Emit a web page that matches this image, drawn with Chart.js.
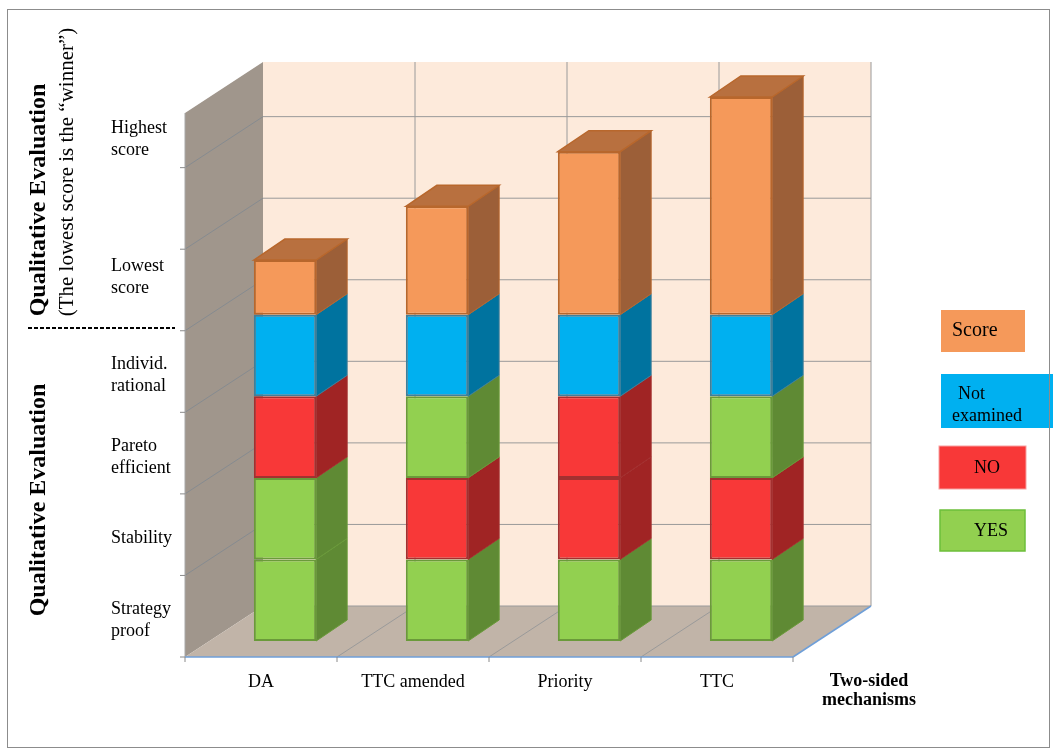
<!DOCTYPE html>
<html>
<head>
<meta charset="utf-8">
<script src="https://cdn.jsdelivr.net/npm/chart.js@4.4.1/dist/chart.umd.min.js"></script>
<style>
  html, body { margin: 0; padding: 0; background: #fff; }
  #wrap { width: 1058px; height: 753px; }
</style>
</head>
<body>
<div id="wrap"><canvas id="chart" width="1058" height="753"></canvas></div>
<script>
// data
const categories = ["DA", "TTC amended", "Priority", "TTC"]
const strategyProof = ["YES", "YES", "YES", "YES"]
const stability = ["YES", "NO", "NO", "NO"]
const paretoEfficient = ["NO", "YES", "NO", "YES"]
const individRational = ["Not examined", "Not examined", "Not examined", "Not examined"]
const scores = [0.67, 1.33, 2.0, 2.67]

const levelLabels = [["Strategy", "proof"], ["Stability"], ["Pareto", "efficient"], ["Individ.", "rational"], ["Lowest", "score"], ["Highest", "score"]]
const levelLabelValues = [0.45, 1.45, 2.45, 3.45, 4.65, 6.35]
const axisTicks = [0, 1, 2, 3, 4, 5, 6]
const yMax = 6.67

const colors = {
  "YES": { face: "#92d050", side: "#5f8a34", top: "#77a844", border: "#6a9a3a" },
  "NO": { face: "#f83838", side: "#a02424", top: "#c02c2c", border: "#a33030" },
  "Not examined": { face: "#00b0f0", side: "#00739f", top: "#008fc6", border: "#3f7f9a" },
  "Score": { face: "#f5995a", side: "#9c5f38", top: "#b8703f", border: "#b8672c" }
}

// 3D geometry: front of box relative to bar plane, back of box, bar depth
const FRONT = { dx: -24, dy: 16 }
const BACK = { dx: 54, dy: -35 }
const DEPTH = { dx: 31, dy: -21 }
const serif = '"Liberation Serif", "Times New Roman", serif'

function levelDataset(label, outcomes, values) {
  return {
    label: label,
    data: values || outcomes.map(() => 1),
    outcome: outcomes,
    backgroundColor: outcomes.map((o) => colors[o].face),
    borderColor: outcomes.map((o) => colors[o].border),
    borderWidth: 2,
    borderSkipped: false,
    categoryPercentage: 1,
    barPercentage: 0.41,
  }
}

function poly(ctx, pts, fill, stroke, lw) {
  ctx.beginPath()
  ctx.moveTo(pts[0][0], pts[0][1])
  for (let i = 1; i < pts.length; i++) ctx.lineTo(pts[i][0], pts[i][1])
  ctx.closePath()
  if (fill) { ctx.fillStyle = fill; ctx.fill() }
  if (stroke) { ctx.strokeStyle = stroke; ctx.lineWidth = lw || 1; ctx.stroke() }
}

function line(ctx, x1, y1, x2, y2, color, lw) {
  ctx.beginPath()
  ctx.moveTo(x1, y1)
  ctx.lineTo(x2, y2)
  ctx.strokeStyle = color
  ctx.lineWidth = lw || 1
  ctx.stroke()
}

const box3d = {
  id: "box3d",
  beforeDatasetsDraw(chart) {
    const ctx = chart.ctx
    const a = chart.chartArea
    const y = chart.scales.y
    const x = chart.scales.x
    const fy = (v) => y.getPixelForValue(v) + FRONT.dy
    const by = (v) => y.getPixelForValue(v) + BACK.dy
    const fx0 = a.left + FRONT.dx, fx1 = a.right + FRONT.dx
    const bx0 = a.left + BACK.dx, bx1 = a.right + BACK.dx
    // category boundaries
    const bounds = [a.left]
    for (let i = 0; i < categories.length - 1; i++) {
      bounds.push((x.getPixelForValue(i) + x.getPixelForValue(i + 1)) / 2)
    }
    bounds.push(a.right)

    ctx.save()
    // back wall
    poly(ctx, [[bx0, by(yMax)], [bx1, by(yMax)], [bx1, by(0)], [bx0, by(0)]], "#fdeadb")
    // left wall
    poly(ctx, [[fx0, fy(0)], [fx0, fy(yMax)], [bx0, by(yMax)], [bx0, by(0)]], "#a0968c")
    // floor
    poly(ctx, [[fx0, fy(0)], [fx1, fy(0)], [bx1, by(0)], [bx0, by(0)]], "#c1b4a8")

    const grid = "#9a9a9a"
    axisTicks.forEach((v) => {
      if (v === 0) return
      line(ctx, bx0, by(v), bx1, by(v), grid)
      line(ctx, fx0, fy(v), bx0, by(v), "#868b90")
    })
    line(ctx, bx0, by(0), bx1, by(0), grid)
    bounds.forEach((b, i) => {
      if (i === 0) return
      line(ctx, b + BACK.dx, by(0), b + BACK.dx, by(yMax), grid)
      if (i < bounds.length - 1) line(ctx, b + FRONT.dx, fy(0), b + BACK.dx, by(0), grid)
    })
    // left axis
    line(ctx, fx0, fy(0), fx0, fy(yMax), "#a8a8a8")
    axisTicks.forEach((v) => line(ctx, fx0 - 5, fy(v), fx0, fy(v), "#8a8a8a"))
    // bottom axis
    line(ctx, fx0, fy(0), fx1, fy(0), "#6f9fd8", 1.5)
    line(ctx, fx1, fy(0), bx1, by(0), "#6f9fd8", 1.5)
    bounds.forEach((b) => line(ctx, b + FRONT.dx, fy(0), b + FRONT.dx, fy(0) + 5, "#8a8a8a"))
    ctx.restore()
  },
  afterDatasetsDraw(chart) {
    const ctx = chart.ctx
    ctx.save()
    const n = chart.data.datasets.length
    chart.data.datasets.forEach((ds, di) => {
      const meta = chart.getDatasetMeta(di)
      meta.data.forEach((bar, i) => {
        const p = bar.getProps(["x", "y", "base", "width"], true)
        const c = colors[ds.outcome[i]]
        const l = p.x - p.width / 2, r = p.x + p.width / 2
        poly(ctx, [[r, p.y], [r + DEPTH.dx, p.y + DEPTH.dy], [r + DEPTH.dx, p.base + DEPTH.dy], [r, p.base]], c.side, c.border, 1)
        if (di === n - 1) {
          poly(ctx, [[l, p.y], [l + DEPTH.dx, p.y + DEPTH.dy], [r + DEPTH.dx, p.y + DEPTH.dy], [r, p.y]], c.top, c.border, 1.5)
        }
      })
    })
    ctx.restore()
  },
  afterDraw(chart) {
    const ctx = chart.ctx
    const y = chart.scales.y
    const x = chart.scales.x
    const fy = (v) => y.getPixelForValue(v) + FRONT.dy
    ctx.save()
    ctx.fillStyle = "#000"
    ctx.textBaseline = "middle"

    // level labels
    ctx.font = "18px " + serif
    ctx.textAlign = "left"
    levelLabels.forEach((lines, i) => {
      const cy = fy(levelLabelValues[i])
      lines.forEach((t, k) => ctx.fillText(t, 111, cy + (k - (lines.length - 1) / 2) * 22))
    })

    // category labels
    ctx.textAlign = "center"
    categories.forEach((c, i) => ctx.fillText(c, x.getPixelForValue(i) + FRONT.dx, fy(0) + 25))
    ctx.font = "bold 18px " + serif
    ctx.fillText("Two-sided", 869, 681)
    ctx.fillText("mechanisms", 869, 700)

    // vertical titles
    ctx.save()
    ctx.translate(39, 200)
    ctx.rotate(-Math.PI / 2)
    ctx.font = "bold 24px " + serif
    ctx.fillText("Qualitative Evaluation", 0, 0)
    ctx.restore()
    ctx.save()
    ctx.translate(67, 172)
    ctx.rotate(-Math.PI / 2)
    ctx.font = "21px " + serif
    ctx.fillText("(The lowest score is the \u201cwinner\u201d)", 0, 0)
    ctx.restore()
    ctx.save()
    ctx.translate(39, 500)
    ctx.rotate(-Math.PI / 2)
    ctx.font = "bold 24px " + serif
    ctx.fillText("Qualitative Evaluation", 0, 0)
    ctx.restore()

    // dashed separator
    ctx.setLineDash([4, 2])
    line(ctx, 28, 328, 175, 328, "#000", 2)
    ctx.setLineDash([])

    // legend boxes
    const legend = [
      { key: "Score", rect: [941, 310, 84, 42], lines: [["Score", 952, 331]], size: 20, align: "left" },
      { key: "Not examined", rect: [941, 374, 112, 54], lines: [["Not", 958, 394], ["examined", 952, 416]], size: 18, align: "left" },
      { key: "NO", rect: [939, 446, 87, 43], lines: [["NO", 987, 468]], size: 18, align: "center" },
      { key: "YES", rect: [940, 510, 85, 41], lines: [["YES", 991, 531]], size: 18, align: "center" },
    ]
    legend.forEach((it) => {
      const [lx, ly, w, h] = it.rect
      ctx.fillStyle = colors[it.key].face
      ctx.fillRect(lx, ly, w, h)
      if (it.key === "YES") { ctx.strokeStyle = "#6cbf3a"; ctx.lineWidth = 1.5; ctx.strokeRect(lx, ly, w, h) }
      if (it.key === "NO") { ctx.strokeStyle = "#f7a0a0"; ctx.lineWidth = 1; ctx.strokeRect(lx, ly, w, h) }
      ctx.fillStyle = "#000"
      ctx.font = it.size + "px " + serif
      ctx.textAlign = it.align
      it.lines.forEach((l) => ctx.fillText(l[0], l[1], l[2]))
    })

    // outer frame
    ctx.strokeStyle = "#8c8c8c"
    ctx.lineWidth = 1
    ctx.strokeRect(7.5, 9.5, 1042, 738)
    ctx.restore()
  },
}

const ctx = document.getElementById("chart").getContext("2d")
const chart = new Chart(ctx, {
  type: "bar",
  data: {
    labels: categories,
    datasets: [
      levelDataset("Strategy proof", strategyProof),
      levelDataset("Stability", stability),
      levelDataset("Pareto efficient", paretoEfficient),
      levelDataset("Individ. rational", individRational),
      levelDataset("Score", scores.map(() => "Score"), scores),
    ],
  },
  options: {
    responsive: false,
    devicePixelRatio: 1,
    animation: false,
    layout: { padding: { left: 209, right: 241, top: 97, bottom: 112 } },
    plugins: { legend: { display: false }, tooltip: { enabled: false } },
    scales: {
      x: { stacked: true, display: false, grid: { display: false } },
      y: { stacked: true, display: false, min: 0, max: yMax, grid: { display: false } },
    },
  },
  plugins: [box3d],
})
</script>
</body>
</html>
